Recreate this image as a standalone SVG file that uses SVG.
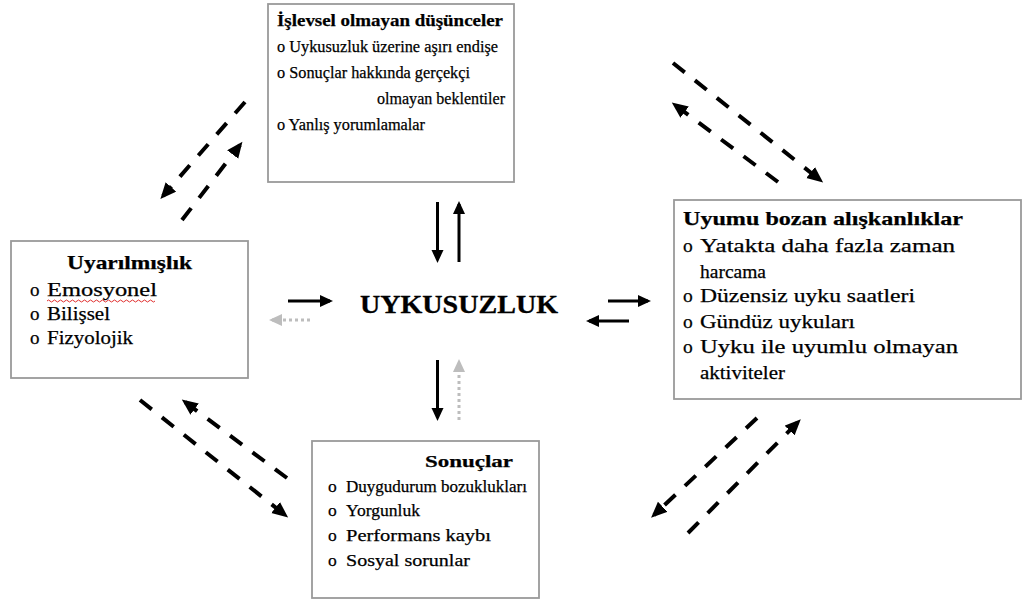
<svg xmlns="http://www.w3.org/2000/svg" width="1028" height="603" viewBox="0 0 1028 603" font-family="'Liberation Serif','Times New Roman',serif">
<defs>
<style>
.box{fill:#fff;stroke:#9a9a9a;stroke-width:1.8}
text{font-family:"Liberation Serif","Times New Roman",serif;fill:#000;stroke:#000;stroke-width:0.25;font-size:17.5px}
.t{font-weight:bold}
.lg text{font-size:19px}
.rg text{font-size:19.5px}
.c{font-weight:bold;font-size:25px;stroke-width:0.3}
.solid{stroke:#000;stroke-width:3;fill:none}
.gray{stroke:#bdbdbd;stroke-width:3;fill:none;stroke-dasharray:3 3}
.dash{stroke:#000;stroke-width:4;fill:none;stroke-dasharray:15 13}
</style>
<marker id="ah" markerUnits="userSpaceOnUse" markerWidth="15" markerHeight="13" refX="10" refY="6" orient="auto"><path d="M0,0 L13,6 L0,12 z" fill="#000"/></marker>
<marker id="ahg" markerUnits="userSpaceOnUse" markerWidth="15" markerHeight="13" refX="10" refY="6" orient="auto"><path d="M0,0 L13,6 L0,12 z" fill="#bdbdbd"/></marker>
<marker id="ahd" markerUnits="userSpaceOnUse" markerWidth="18" markerHeight="16" refX="12" refY="7" orient="auto"><path d="M0,0 L16,7 L0,14 z" fill="#000"/></marker>
</defs>
<rect width="1028" height="603" fill="#fff"/>

<g id="connectors">
<line class="solid" x1="437.5" y1="202" x2="437.5" y2="260" marker-end="url(#ah)"/>
<line class="solid" x1="459" y1="262" x2="459" y2="204" marker-end="url(#ah)"/>
<line class="solid" x1="288" y1="301" x2="330" y2="301" marker-end="url(#ah)"/>
<line class="gray" x1="310" y1="320" x2="272" y2="320" marker-end="url(#ahg)"/>
<line class="solid" x1="608" y1="301" x2="648" y2="301" marker-end="url(#ah)"/>
<line class="solid" x1="629" y1="321" x2="589" y2="321" marker-end="url(#ah)"/>
<line class="solid" x1="437.5" y1="360" x2="437.5" y2="418" marker-end="url(#ah)"/>
<line class="gray" x1="459" y1="420" x2="459" y2="362" marker-end="url(#ahg)"/>

<line class="dash" x1="245" y1="102" x2="163" y2="196" marker-end="url(#ahd)"/>
<line class="dash" x1="182" y1="220" x2="240" y2="145" marker-end="url(#ahd)"/>
<line class="dash" x1="673" y1="63" x2="820" y2="180" marker-end="url(#ahd)"/>
<line class="dash" x1="778" y1="182" x2="675" y2="105" marker-end="url(#ahd)"/>
<line class="dash" x1="140" y1="400" x2="285" y2="515" marker-end="url(#ahd)"/>
<line class="dash" x1="287" y1="478" x2="185" y2="402" marker-end="url(#ahd)"/>
<line class="dash" x1="757" y1="418" x2="654" y2="515" marker-end="url(#ahd)"/>
<line class="dash" x1="688" y1="533" x2="798" y2="422" marker-end="url(#ahd)"/>
</g>

<g id="node-islevsel">
<rect class="box" x="268" y="4" width="246" height="178"/>
<text class="t" x="277" y="26" textLength="226" lengthAdjust="spacingAndGlyphs">İşlevsel olmayan düşünceler</text>
<text x="277" y="52" textLength="221" lengthAdjust="spacingAndGlyphs">o Uykusuzluk üzerine aşırı endişe</text>
<text x="277" y="78" textLength="193" lengthAdjust="spacingAndGlyphs">o Sonuçlar hakkında gerçekçi</text>
<text x="377" y="104" textLength="128" lengthAdjust="spacingAndGlyphs">olmayan beklentiler</text>
<text x="277" y="130" textLength="148" lengthAdjust="spacingAndGlyphs">o Yanlış yorumlamalar</text>
</g>

<g id="node-uyarilmislik" class="lg">
<rect class="box" x="11" y="241" width="237" height="137"/>
<text class="t" x="67" y="269" textLength="125" lengthAdjust="spacingAndGlyphs">Uyarılmışlık</text>
<text x="30" y="296">o</text><text x="47" y="296" textLength="110" lengthAdjust="spacingAndGlyphs">Emosyonel</text>
<path d="M47,301 q1.5,-2 3,0 t3,0 t3,0 t3,0 t3,0 t3,0 t3,0 t3,0 t3,0 t3,0 t3,0 t3,0 t3,0 t3,0 t3,0 t3,0 t3,0 t3,0 t3,0 t3,0 t3,0 t3,0 t3,0 t3,0 t3,0 t3,0 t3,0 t3,0 t3,0 t3,0 t3,0 t3,0 t3,0 t3,0 t3,0 t3,0" fill="none" stroke="#e03030" stroke-width="1"/>
<text x="30" y="320">o</text><text x="47" y="320" textLength="63" lengthAdjust="spacingAndGlyphs">Bilişsel</text>
<text x="30" y="344">o</text><text x="47" y="344" textLength="86" lengthAdjust="spacingAndGlyphs">Fizyolojik</text>
</g>

<g id="node-uykusuzluk">
<text class="c" x="360" y="313" textLength="198" lengthAdjust="spacingAndGlyphs">UYKUSUZLUK</text>
</g>

<g id="node-aliskanliklar" class="rg">
<rect class="box" x="674" y="200" width="347" height="199"/>
<text class="t" x="683" y="225" textLength="280" lengthAdjust="spacingAndGlyphs">Uyumu bozan alışkanlıklar</text>
<text x="683" y="252">o</text><text x="700" y="252" textLength="255" lengthAdjust="spacingAndGlyphs">Yatakta daha fazla zaman</text>
<text x="700" y="278" textLength="66" lengthAdjust="spacingAndGlyphs">harcama</text>
<text x="683" y="302">o</text><text x="700" y="302" textLength="215" lengthAdjust="spacingAndGlyphs">Düzensiz uyku saatleri</text>
<text x="683" y="328">o</text><text x="700" y="328" textLength="155" lengthAdjust="spacingAndGlyphs">Gündüz uykuları</text>
<text x="683" y="353">o</text><text x="700" y="353" textLength="258" lengthAdjust="spacingAndGlyphs">Uyku ile uyumlu olmayan</text>
<text x="700" y="379" textLength="85" lengthAdjust="spacingAndGlyphs">aktiviteler</text>
</g>

<g id="node-sonuclar">
<rect class="box" x="312" y="441" width="227" height="157"/>
<text class="t" x="425" y="467" textLength="88" lengthAdjust="spacingAndGlyphs">Sonuçlar</text>
<text x="328" y="492">o</text><text x="346" y="492" textLength="181" lengthAdjust="spacingAndGlyphs">Duygudurum bozuklukları</text>
<text x="328" y="516">o</text><text x="346" y="516" textLength="74" lengthAdjust="spacingAndGlyphs">Yorgunluk</text>
<text x="328" y="541">o</text><text x="346" y="541" textLength="145" lengthAdjust="spacingAndGlyphs">Performans kaybı</text>
<text x="328" y="566">o</text><text x="346" y="566" textLength="124" lengthAdjust="spacingAndGlyphs">Sosyal sorunlar</text>
</g>
</svg>
